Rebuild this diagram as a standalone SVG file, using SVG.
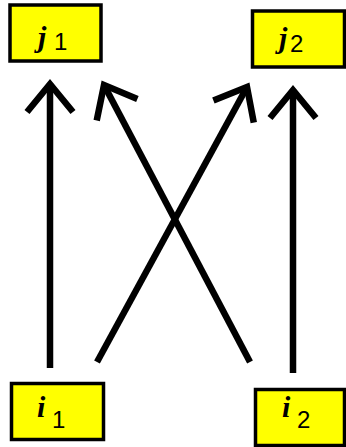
<svg xmlns="http://www.w3.org/2000/svg" width="346" height="447" viewBox="0 0 346 447">
<style>
.box{fill:#ffff00;stroke:#000;stroke-width:3.5}
.v{font-family:"Liberation Serif",serif;font-style:italic;font-weight:bold;font-size:30px;fill:#000}
.s{font-family:"Liberation Sans",sans-serif;font-size:24px;fill:#000}
.c{stroke:#000;stroke-width:6.5;fill:none;stroke-linecap:butt}
</style>
<defs>
<marker id="ah" markerUnits="userSpaceOnUse" viewBox="-36 -30 42 60" markerWidth="42" markerHeight="60" refX="0" refY="0" orient="auto">
<path d="M -28,-23 L 0,0 L -28,23" fill="none" stroke="#000" stroke-width="6.5" stroke-linejoin="miter"/>
</marker>
</defs>
<g id="connectors">
<line class="c" x1="50" y1="368" x2="50" y2="84" marker-end="url(#ah)"/>
<line class="c" x1="293" y1="373" x2="293" y2="90" marker-end="url(#ah)"/>
<line class="c" x1="97" y1="362" x2="247" y2="87" marker-end="url(#ah)"/>
<line class="c" x1="250" y1="362" x2="104" y2="85" marker-end="url(#ah)"/>
</g>
<g id="j1">
<rect class="box" x="10" y="5" width="91" height="56"/>
<text class="v" x="38" y="47">j</text><text class="s" x="54" y="50">1</text>
</g>
<g id="j2">
<rect class="box" x="252.5" y="11" width="92" height="56"/>
<text class="v" x="279" y="48">j</text><text class="s" x="290" y="52">2</text>
</g>
<g id="i1">
<rect class="box" x="11.5" y="383.5" width="92" height="56"/>
<text class="v" x="37" y="417">i</text><text class="s" x="52" y="428">1</text>
</g>
<g id="i2">
<rect class="box" x="255.5" y="389.5" width="89" height="56"/>
<text class="v" x="282" y="417">i</text><text class="s" x="297" y="428">2</text>
</g>
</svg>
